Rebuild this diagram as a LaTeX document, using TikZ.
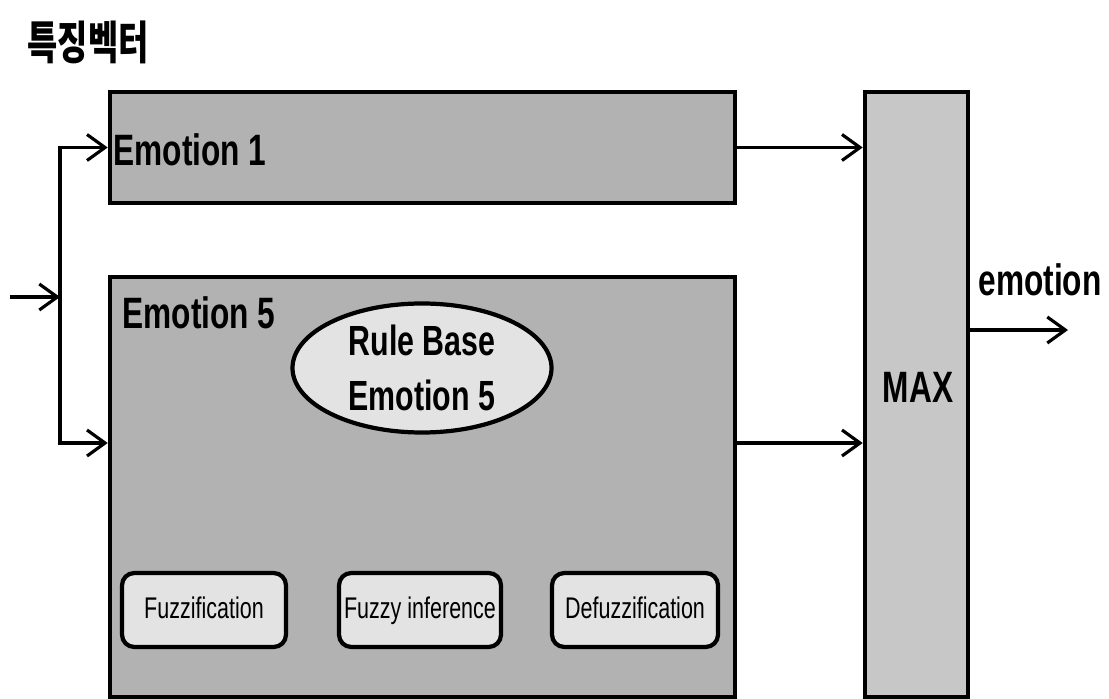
\documentclass[tikz,border=0pt]{standalone}
\usepackage{fontspec}
\usetikzlibrary{arrows.meta, shapes.geometric}
\newfontfamily\narrowfont{Liberation Sans}[FakeStretch=0.72]
\newfontfamily\krfont{Noto Sans CJK KR}[FakeStretch=0.72]
\definecolor{emofill}{gray}{0.70}
\definecolor{maxfill}{gray}{0.78}
\definecolor{innerfill}{gray}{0.89}

\begin{document}
\begin{tikzpicture}[
        box/.style={rectangle, draw, line width=1.3pt, inner sep=0pt},
        stage/.style={rectangle, draw, rounded corners=3.5pt, line width=1.2pt, fill=innerfill, minimum height=0.74cm, inner sep=0pt, text height=1.6ex, text depth=0.45ex, font=\narrowfont\fontsize{8.5}{10}\selectfont},
        boxtext/.style={inner sep=0pt, font=\narrowfont\bfseries\fontsize{12.5}{15}\selectfont},
        arr/.style={line width=0.9pt, -{Straight Barb[length=1.8mm, width=2.6mm, line width=0.9pt]}}
    ]
        \useasboundingbox (0,0) rectangle (11.09,-6.99);

        % Draw nodes
        \node[box, fill=emofill, minimum width=6.25cm, minimum height=1.11cm] (emo1) at (4.225,-1.475) {};
        \node[box, fill=emofill, minimum width=6.25cm, minimum height=4.20cm] (emo5) at (4.225,-4.87) {};
        \node[box, fill=maxfill, minimum width=1.03cm, minimum height=6.05cm] (max) at (9.165,-3.945) {};

        \node[ellipse, draw, line width=1.2pt, fill=innerfill, minimum width=2.59cm, minimum height=1.29cm, inner sep=0pt, align=center, font=\narrowfont\bfseries\fontsize{12}{15.6}\selectfont] (rules) at (4.22,-3.68) {Rule Base\\Emotion 5};

        \node[stage, minimum width=1.64cm] (fuzz) at (2.04,-6.10) {Fuzzification};
        \node[stage, minimum width=1.62cm] (infer) at (4.20,-6.10) {Fuzzy inference};
        \node[stage, minimum width=1.66cm] (defuzz) at (6.35,-6.10) {Defuzzification};

        % Labels
        \node[boxtext, anchor=west] (emo1text) at (1.13,-1.50) {Emotion 1};
        \node[boxtext, anchor=west] (emo5text) at (1.22,-3.13) {Emotion 5};
        \node[boxtext] (maxtext) at (9.18,-3.87) {MAX};
        \node[boxtext] (outtext) at (10.40,-2.80) {emotion};
        \node[inner sep=0pt, font=\krfont\bfseries\fontsize{13}{15}\selectfont] (feat) at (0.88,-0.42) {특징벡터};

        % Draw connections
        \coordinate (in) at (0.10,-2.97);
        \coordinate (split) at (0.60,-2.97);
        \coordinate (lo) at (0.60,-4.43);
        \coordinate (out) at (10.68,-3.30);

        \draw[arr] (in) -- (split);
        \draw[arr] (split) |- (emo1.west);
        \draw[arr] (split) -- (lo) -- (lo -| emo5.west);
        \draw[arr] (emo1.east) -- (emo1.east -| max.west);
        \draw[arr] (emo5.east |- lo) -- (max.west |- lo);
        \draw[arr] (max.east |- out) -- (out);
    \end{tikzpicture}
\end{document}
